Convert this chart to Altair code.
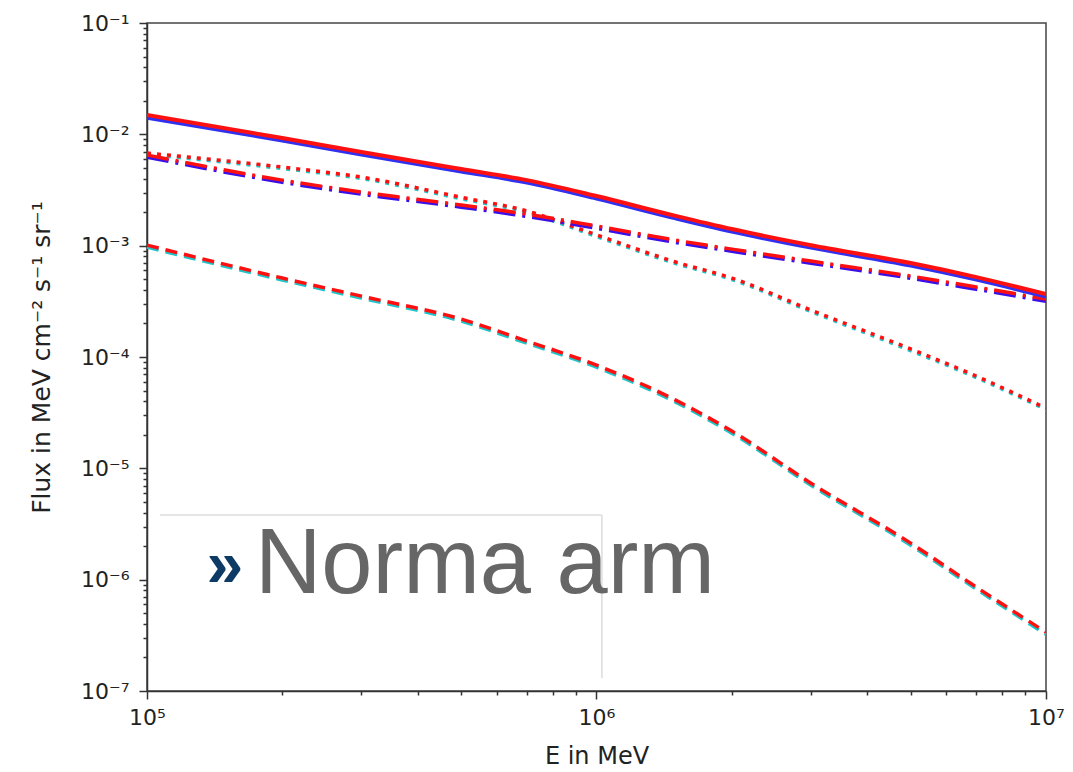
import altair as alt
import pandas as pd

# ---------------- data ----------------
energy = [1e5, 2e5, 3e5, 5e5, 7e5, 1e6, 1.5e6, 2e6, 3e6, 5e6, 7e6, 1e7]

solid_red = [1.49e-2, 9.27e-3, 6.94e-3, 4.88e-3, 3.88e-3, 2.79e-3, 1.85e-3, 1.41e-3, 1.01e-3, 6.98e-4, 5.22e-4, 3.67e-4]
solid_blue = [1.41e-2, 8.80e-3, 6.60e-3, 4.64e-3, 3.69e-3, 2.65e-3, 1.76e-3, 1.34e-3, 9.60e-4, 6.63e-4, 4.96e-4, 3.49e-4]
dashdot_red = [6.52e-3, 3.88e-3, 3.03e-3, 2.32e-3, 1.92e-3, 1.50e-3, 1.12e-3, 9.31e-4, 7.27e-4, 5.33e-4, 4.25e-4, 3.31e-4]
dashdot_blue = [6.30e-3, 3.75e-3, 2.93e-3, 2.24e-3, 1.85e-3, 1.45e-3, 1.08e-3, 9.00e-4, 7.02e-4, 5.15e-4, 4.10e-4, 3.20e-4]
dotted_red = [6.79e-3, 5.08e-3, 4.13e-3, 2.72e-3, 2.05e-3, 1.25e-3, 7.13e-4, 5.12e-4, 2.64e-4, 1.18e-4, 6.73e-5, 3.47e-5]
dotted_cyan = [6.60e-3, 4.93e-3, 4.01e-3, 2.64e-3, 1.99e-3, 1.21e-3, 6.92e-4, 4.97e-4, 2.56e-4, 1.14e-4, 6.53e-5, 3.37e-5]
dashed_red = [1.01e-3, 5.12e-4, 3.52e-4, 2.19e-4, 1.39e-4, 8.45e-5, 4.10e-5, 2.16e-5, 7.36e-6, 2.13e-6, 8.57e-7, 3.37e-7]
dashed_cyan = [9.70e-4, 4.92e-4, 3.38e-4, 2.10e-4, 1.33e-4, 8.10e-5, 3.93e-5, 2.07e-5, 7.06e-6, 2.04e-6, 8.22e-7, 3.23e-7]

x_ticks = [1e5, 2e5, 3e5, 4e5, 5e5, 6e5, 7e5, 8e5, 9e5,
           1e6, 2e6, 3e6, 4e6, 5e6, 6e6, 7e6, 8e6, 9e6, 1e7]
x_labels = ["10⁵", "10⁶", "10⁷"]
y_ticks = [m * 10.0 ** e for e in range(-7, -1) for m in range(1, 10)] + [1e-1]
y_labels = ["10⁻⁷", "10⁻⁶", "10⁻⁵", "10⁻⁴", "10⁻³", "10⁻²", "10⁻¹"]

# annotation overlay (in data coordinates)
box = {"E": 1.069e5, "E2": 1.028e6, "F": 3.8e-6, "F2": 1.3e-7}
arrow_text = {"E": 1.49e5, "F": 8.57e-7, "t": "»"}
label_text = {"E": 1.738e5, "F": 7.57e-7, "t": "Norma arm"}

# ---------------- chart ----------------
major = "abs(log(datum.value)/LN10 - round(log(datum.value)/LN10)) < 0.001"
x_lab_arr = "[" + ",".join("'" + s + "'" for s in x_labels) + "]"
y_lab_arr = "[" + ",".join("'" + s + "'" for s in y_labels) + "]"

common_axis = dict(
    grid=False,
    domainColor="#333333",
    domainWidth=1.5,
    tickColor="#333333",
    tickWidth=1.5,
    tickSize={"condition": {"test": major, "value": 8}, "value": 4},
    labelFont="DejaVu Sans",
    labelFontSize=22,
    labelColor="#222222",
    labelOverlap=False,
    labelFlush=False,
    titleFont="DejaVu Sans",
    titleFontWeight="normal",
    titleColor="#222222",
)

x_axis = alt.Axis(
    values=x_ticks,
    labelExpr=f"({major}) ? {x_lab_arr}[round(log(datum.value)/LN10)-5] : ''",
    labelPadding=8,
    title="E in MeV",
    titleFontSize=24,
    titleY=65,
    titleBaseline="middle",
    **common_axis,
)
y_axis = alt.Axis(
    values=y_ticks,
    labelExpr=f"({major}) ? {y_lab_arr}[round(log(datum.value)/LN10)+7] : ''",
    labelPadding=10,
    title="Flux in MeV cm⁻² s⁻¹ sr⁻¹",
    titleFontSize=25,
    titleX=-106,
    titleY=334,
    titleAngle=270,
    titleAlign="center",
    titleBaseline="middle",
    **common_axis,
)

xs = alt.Scale(type="log", domain=[1e5, 1e7], nice=False)
ys = alt.Scale(type="log", domain=[1e-7, 1e-1], nice=False)
X = alt.X("E:Q", scale=xs, axis=x_axis)
Y = alt.Y("F:Q", scale=ys, axis=y_axis)


def line(vals, color, width, dash=None):
    df = pd.DataFrame({"E": energy, "F": vals})
    kw = dict(color=color, strokeWidth=width, interpolate="monotone", clip=True)
    if dash:
        kw["strokeDash"] = dash
    return alt.Chart(df).mark_line(**kw).encode(x=X, y=Y)


layers = [
    line(dashed_cyan, "#1fc4c8", 3.5, [12, 7]),
    line(dashed_red, "#ff1010", 3.5, [12, 7]),
    line(dotted_cyan, "#1fc4c8", 3.5, [4, 6]),
    line(dotted_red, "#ff1010", 3.5, [4, 6]),
    line(dashdot_blue, "#3a10e8", 4.5, [22, 7, 3, 7]),
    line(dashdot_red, "#ff1010", 3.5, [22, 7, 3, 7]),
    line(solid_blue, "#3030f0", 4, None),
    line(solid_red, "#ff1010", 4, None),
]

box_df = pd.DataFrame([box])
layers.append(
    alt.Chart(box_df).mark_rect(fill="white", stroke=None).encode(x=X, x2="E2", y=Y, y2="F2")
)
layers.append(
    alt.Chart(box_df).mark_rule(color="#dcdcdc", strokeWidth=1.5).encode(x=X, x2="E2", y=Y)
)
layers.append(
    alt.Chart(box_df).mark_rule(color="#dcdcdc", strokeWidth=1.5).encode(x=alt.X("E2:Q", scale=xs, axis=x_axis), y=Y, y2="F2")
)
layers.append(
    alt.Chart(pd.DataFrame([arrow_text])).mark_text(
        font="Liberation Sans", fontSize=66, fontWeight="bold", color="#0d3b66", align="center", baseline="alphabetic"
    ).encode(x=X, y=Y, text="t:N")
)
layers.append(
    alt.Chart(pd.DataFrame([label_text])).mark_text(
        font="Liberation Sans", fontSize=92, color="#666666", align="left", baseline="alphabetic"
    ).encode(x=X, y=Y, text="t:N")
)

chart = (
    alt.layer(*layers)
    .properties(
        width=899,
        height=668,
        autosize=alt.AutoSizeParams(type="none"),
        padding={"left": 147, "top": 23, "right": 27, "bottom": 81},
        background="white",
    )
    .configure_view(stroke="#444444", strokeWidth=1.5)
)

chart.save("out.html", embed_options={"renderer": "svg", "actions": False})
